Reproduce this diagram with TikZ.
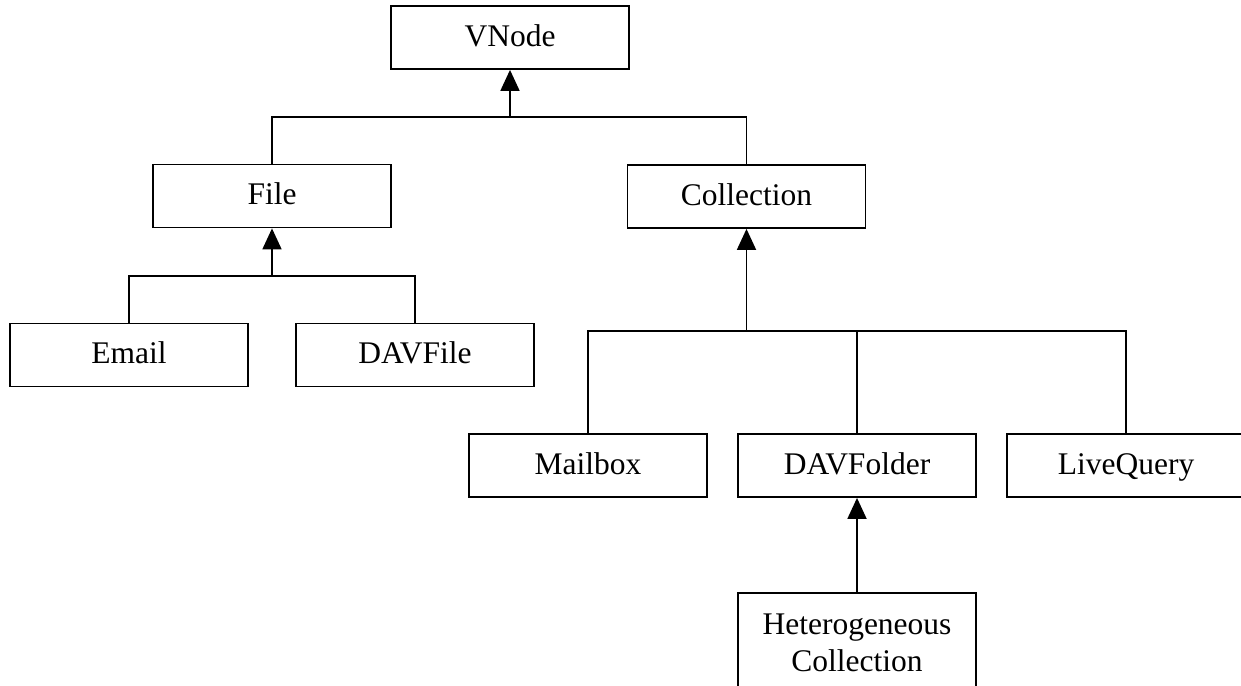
\documentclass[tikz,border=0pt]{standalone}
\usepackage{fontspec}
\setmainfont{Liberation Serif}
\usetikzlibrary{arrows.meta}
\tikzset{
  cls/.style={draw, line width=1.8pt, minimum width=238pt, minimum height=63pt, inner sep=0pt,
    font=\fontsize{31.5}{37}\selectfont, text height=22pt, text depth=4.5pt},
  cls2/.style={draw, line width=1.8pt, minimum width=238pt, minimum height=100pt, inner sep=0pt,
    font=\fontsize{31.5}{37}\selectfont, align=center},
  conn/.style={line width=1.8pt},
  inh/.style={line width=1.8pt, -{Triangle[length=21pt,width=19pt]}}
}
\begin{document}
\begin{tikzpicture}[x=1pt,y=-1pt]
\useasboundingbox (0,0) rectangle (1241,685);
\node[cls] (vnode) at (510,37.5) {VNode};
\node[cls] (file) at (272,196) {File};
\node[cls] (coll) at (746.5,196.5) {Collection};
\node[cls] (email) at (129,355) {Email};
\node[cls] (davfile) at (415,355) {DAVFile};
\node[cls] (mailbox) at (588,465.5) {Mailbox};
\node[cls] (davfolder) at (857,465.5) {DAVFolder};
\node[cls] (livequery) at (1126,465.5) {LiveQuery};
\node[cls2, anchor=north] (hetero) at (857,592) {Heterogeneous\\Collection};
% buses
\coordinate (b1) at (510,117);
\coordinate (b2) at (272,276);
\coordinate (b3) at (746.5,331);
\draw[conn] (file.north) |- (b1) -| (coll.north);
\draw[inh] (b1) -- (vnode.south);
\draw[conn] (email.north) |- (b2) -| (davfile.north);
\draw[inh] (b2) -- (file.south);
\draw[conn] (mailbox.north) |- (b3) -| (livequery.north);
\draw[conn] (davfolder.north) -- (davfolder.north |- b3);
\draw[inh] (b3) -- (coll.south);
\draw[inh] (hetero.north) -- (davfolder.south);
\end{tikzpicture}
\end{document}
